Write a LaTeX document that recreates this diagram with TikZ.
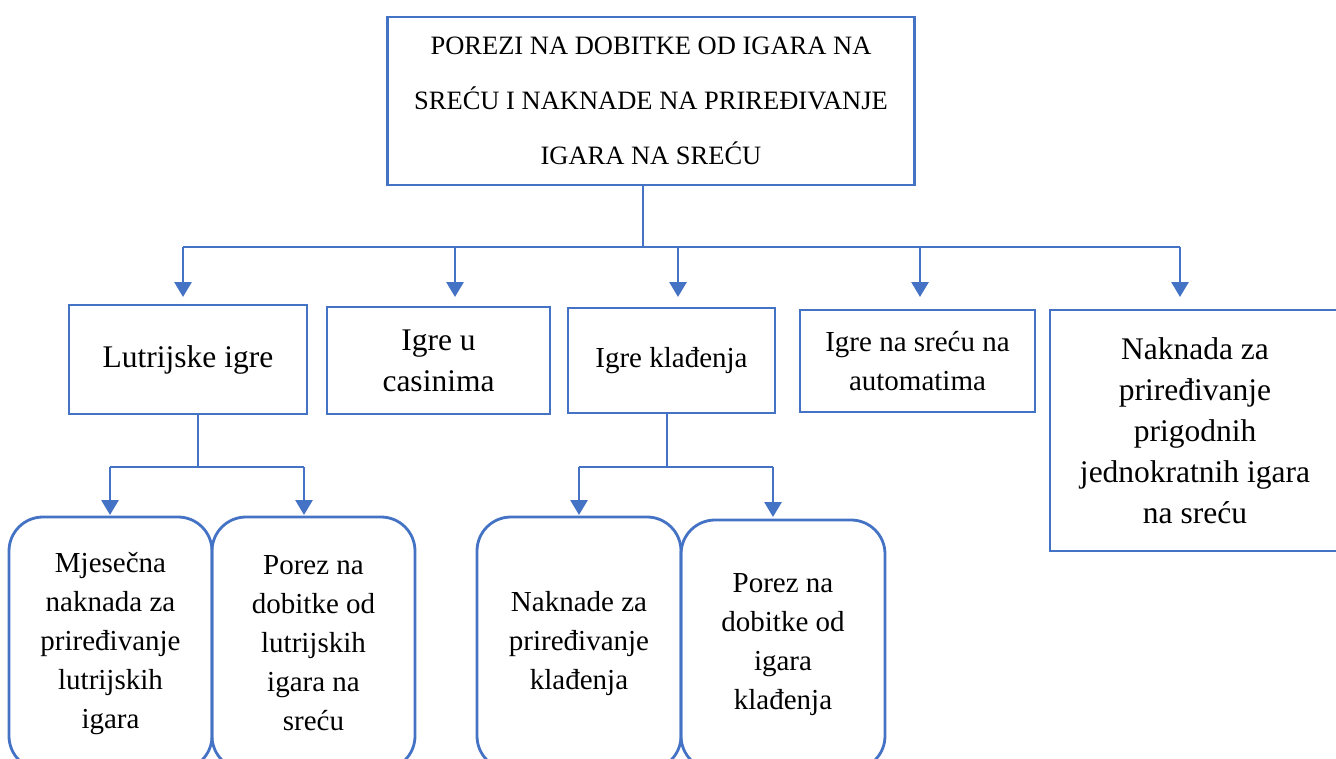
\documentclass[tikz,border=0pt]{standalone}
\usepackage{fontspec}
\setmainfont{Liberation Serif}
\usetikzlibrary{arrows.meta}
\definecolor{wblue}{HTML}{4472C4}
\newcommand\fTop{\fontsize{26.5}{55}\selectfont}
\newcommand\fBig{\fontsize{31.5}{41}\selectfont}
\newcommand\fMid{\fontsize{29}{39}\selectfont}
\tikzset{
  box/.style={draw=wblue, line width=2.8pt, align=center, inner sep=0pt, text=black},
  rbox/.style={box, rounded corners=34pt},
  conn/.style={draw=wblue, line width=2.8pt},
  arr/.style={conn, -{Triangle[width=17pt,length=15pt]}},
}
\begin{document}
\begin{tikzpicture}[x=1pt,y=-1pt]
\useasboundingbox (0,0) rectangle (1336,758);
\fill[white] (0,0) rectangle (1336,758);
\clip (0,0) rectangle (1336,758);

% top
\node[box, minimum width=527pt, minimum height=168pt, font=\fTop] (top) at (651,101)
  {POREZI NA DOBITKE OD IGARA NA\\SREĆU I NAKNADE NA PRIREĐIVANJE\\IGARA NA SREĆU};

% middle row
\node[box, minimum width=238pt, minimum height=109pt, font=\fBig] (lut) at (188,359.5) {\raisebox{-3pt}{Lutrijske igre}};
\node[box, minimum width=223pt, minimum height=107pt, font=\fBig] (cas) at (438.5,360.5) {Igre u\\casinima};
\node[box, minimum width=207pt, minimum height=105pt, font=\fMid] (kla) at (671.5,360.5) {\raisebox{-3pt}{Igre klađenja}};
\node[box, minimum width=235pt, minimum height=102pt, font=\fMid] (aut) at (917.5,361) {Igre na sreću na\\automatima};
\node[box, minimum width=290pt, minimum height=241pt, font=\fBig] (nak) at (1195,430.5)
  {Naknada za\\priređivanje\\prigodnih\\jednokratnih igara\\na sreću};

% bottom row
\node[rbox, minimum width=203pt, minimum height=253pt, font=\fMid] (mje) at (110.5,643.5)
  {Mjesečna\\naknada za\\priređivanje\\lutrijskih\\igara};
\node[rbox, minimum width=203pt, minimum height=253pt, font=\fMid] (plut) at (313.5,643.5)
  {Porez na\\dobitke od\\lutrijskih\\igara na\\sreću};
\node[rbox, minimum width=204pt, minimum height=253pt, font=\fMid] (nkl) at (579,643.5)
  {Naknade za\\priređivanje\\klađenja};
\node[rbox, minimum width=204pt, minimum height=250pt, font=\fMid] (pkl) at (783,645)
  {Porez na\\dobitke od\\igara\\klađenja};

% main bus
\coordinate (bus) at (643,247);
\coordinate (busL) at (183,247);
\coordinate (busR) at (1180,247);
\draw[conn] (top.south -| bus) -- (bus);
\draw[conn] (busL) -- (busR);
\coordinate (t1) at (183,297);
\coordinate (t2) at (455,297);
\coordinate (t3) at (678,297);
\coordinate (t4) at (920,297);
\coordinate (t5) at (1180,297);
\coordinate (s2) at (455,247);
\coordinate (s3) at (678,247);
\coordinate (s4) at (920,247);
\draw[arr] (busL) -- (t1);
\draw[arr] (s2) -- (t2);
\draw[arr] (s3) -- (t3);
\draw[arr] (s4) -- (t4);
\draw[arr] (busR) -- (t5);

% lutrijske sub-bus
\coordinate (lb) at (198,467);
\coordinate (lbL) at (110,467);
\coordinate (lbR) at (304,467);
\coordinate (lt1) at (110,515);
\coordinate (lt2) at (304,515);
\draw[conn] (lut.south -| lb) -- (lb);
\draw[conn] (lbL) -- (lbR);
\draw[arr] (lbL) -- (lt1);
\draw[arr] (lbR) -- (lt2);

% kladjenja sub-bus
\coordinate (kb) at (667,467);
\coordinate (kbL) at (579,467);
\coordinate (kbR) at (773,467);
\coordinate (kt1) at (579,515);
\coordinate (kt2) at (773,517);
\draw[conn] (kla.south -| kb) -- (kb);
\draw[conn] (kbL) -- (kbR);
\draw[arr] (kbL) -- (kt1);
\draw[arr] (kbR) -- (kt2);
\end{tikzpicture}
\end{document}
